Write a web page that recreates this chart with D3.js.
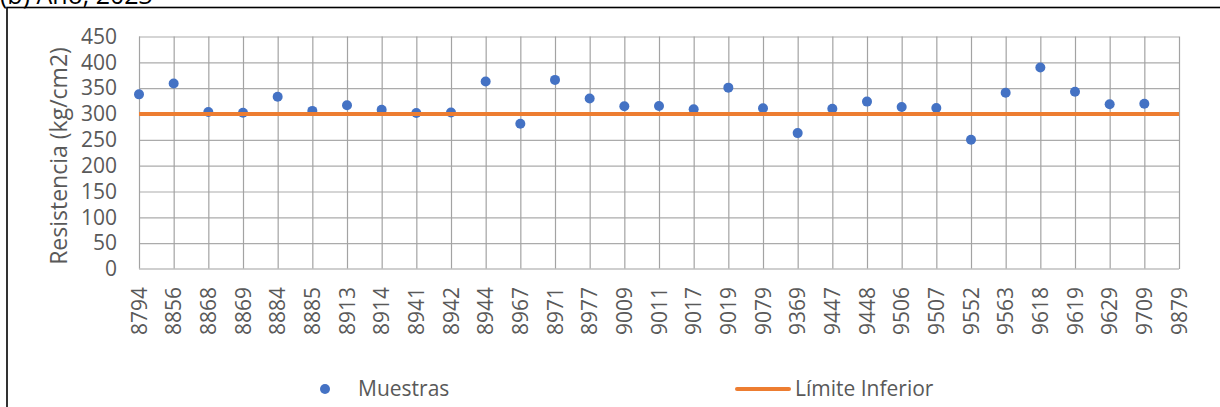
<!DOCTYPE html>
<html>
<head>
<meta charset="utf-8">
<script src="https://cdn.jsdelivr.net/npm/d3@7"></script>
<style>
  html, body { margin: 0; padding: 0; background: #fff; }
  svg { display: block; }
  text { font-family: "Open Sans", "Liberation Sans", sans-serif; fill: #595959; }
</style>
</head>
<body>
<svg id="chart" width="1220" height="407"></svg>
<script>
// Sample IDs along the x axis
const categories = ["8794","8856","8868","8869","8884","8885","8913","8914","8941","8942",
  "8944","8967","8971","8977","9009","9011","9017","9019","9079","9369",
  "9447","9448","9506","9507","9552","9563","9618","9619","9629","9709","9879"];

// Measured strength per sample (kg/cm2); 9879 has no reading
const muestras = [338, 359, 304, 302.5, 333.5, 306, 317, 308, 302, 303,
  363, 281, 366, 330, 315, 315.5, 309, 351, 311, 263,
  310, 324, 313.5, 311.5, 250, 341, 390, 343, 319, 320, null];

// Lower limit, constant over all samples
const limiteInferior = categories.map(() => 300);

const yTicks = [0, 50, 100, 150, 200, 250, 300, 350, 400, 450];

const colors = { muestras: "#4472C4", limite: "#ED7D31" };

const svg = d3.select("#chart");

// Outer frame
svg.append("rect")
  .attr("x", 7).attr("y", 7.5)
  .attr("width", 1300).attr("height", 500)
  .attr("fill", "none").attr("stroke", "#000").attr("stroke-width", 1.6);

// Title
svg.append("text")
  .attr("x", 0).attr("y", 4)
  .style("font-size", "25px").style("fill", "#000")
  .text("(b) Año, 2023");

const plot = { left: 139, right: 1179, top: 36.5, bottom: 269 };

const x = d3.scalePoint().domain(categories).range([plot.left, plot.right]);
const y = d3.scaleLinear().domain([0, 450]).range([plot.bottom, plot.top]);

// Horizontal gridlines
svg.append("g")
  .attr("transform", `translate(${plot.left},0)`)
  .call(d3.axisLeft(y).tickValues(yTicks.filter(v => v > 0)).tickSize(-(plot.right - plot.left)).tickFormat(""))
  .call(g => g.select(".domain").remove())
  .call(g => g.selectAll("line").attr("stroke", "#ABABAB").attr("stroke-width", 1.2));

// Vertical gridlines at each sample
svg.append("g")
  .attr("transform", `translate(0,${plot.bottom})`)
  .call(d3.axisBottom(x).tickSize(-(plot.bottom - plot.top)).tickFormat(""))
  .call(g => g.select(".domain").remove())
  .call(g => g.selectAll("line").attr("stroke", "#A3A3A3").attr("stroke-width", 1.2));

// Baseline
svg.append("line")
  .attr("x1", plot.left).attr("x2", plot.right)
  .attr("y1", y(0)).attr("y2", y(0))
  .attr("stroke", "#BFBFBF").attr("stroke-width", 1.5);

// Y axis labels
svg.append("g")
  .attr("transform", `translate(${plot.left},0)`)
  .call(d3.axisLeft(y).tickValues(yTicks).tickSize(0).tickPadding(22))
  .call(g => g.select(".domain").remove())
  .call(g => g.selectAll("text")
    .style("font-size", "21px").style("font-family", "'Open Sans', sans-serif").attr("fill", "#595959"));

// X axis labels, rotated
svg.append("g")
  .attr("transform", `translate(0,${plot.bottom})`)
  .call(d3.axisBottom(x).tickSize(0))
  .call(g => g.select(".domain").remove())
  .call(g => g.selectAll("text")
    .style("font-size", "21px").style("font-family", "'Open Sans', sans-serif").attr("fill", "#595959")
    .attr("text-anchor", "end")
    .attr("dy", null).attr("y", 0)
    .attr("transform", "translate(7,18) rotate(-90)"));

// Y axis title
svg.append("text")
  .attr("transform", `translate(67,156) rotate(-90)`)
  .attr("text-anchor", "middle")
  .style("font-size", "23px")
  .text("Resistencia (kg/cm2)");

// Sample markers
const pts = categories.map((c, i) => ({ c, v: muestras[i] })).filter(d => d.v != null);
svg.append("g").selectAll("circle")
  .data(pts).join("circle")
  .attr("cx", d => x(d.c)).attr("cy", d => y(d.v))
  .attr("r", 5).attr("fill", colors.muestras);

// Lower limit line
const line = d3.line().x((d, i) => x(categories[i])).y(d => y(d));
svg.append("path")
  .datum(limiteInferior)
  .attr("d", line)
  .attr("fill", "none").attr("stroke", colors.limite).attr("stroke-width", 4);

// Legend
const leg = svg.append("g");
leg.append("circle").attr("cx", 325).attr("cy", 389).attr("r", 5).attr("fill", colors.muestras);
leg.append("text").attr("x", 358).attr("y", 396).style("font-size", "21px").text("Muestras");
leg.append("line").attr("x1", 737).attr("x2", 789).attr("y1", 389).attr("y2", 389)
  .attr("stroke", colors.limite).attr("stroke-width", 4).attr("stroke-linecap", "round");
leg.append("text").attr("x", 795).attr("y", 396).style("font-size", "21px").text("Límite Inferior");
</script>
</body>
</html>
